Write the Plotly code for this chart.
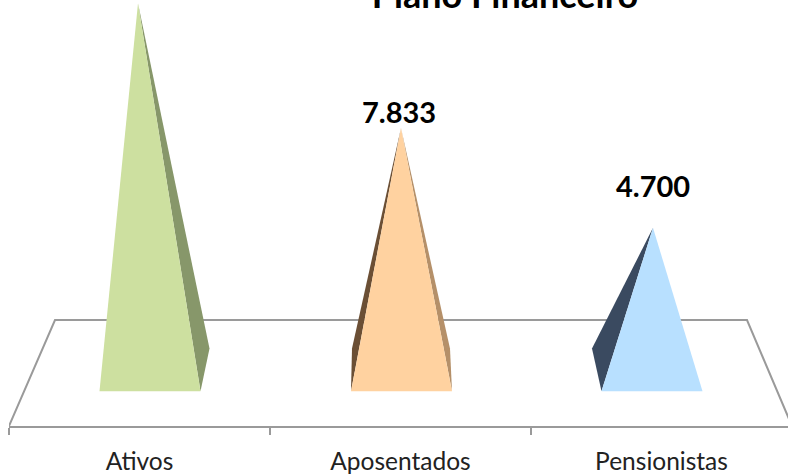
import plotly.graph_objects as go

# --- data ---
categories = ["Ativos", "Aposentados", "Pensionistas"]
values = [11750, 7833, 4700]
title_text = "Plano Financeiro"

# --- drawing constants (pseudo-3D geometry, in axis units) ---
PX_PER_CAT = 261.0
PX_PER_VAL = 0.0319
def dx(px): return px / PX_PER_CAT
def dv(px): return px / PX_PER_VAL

base_shift = [dx(10.5), dx(1), dx(-9.5)]
apex_shift = [dx(-1.5), dx(0.5), dx(-8.5)]
half_width = dx(50.5)
base_level = -dv(13.7)
depth_level = dv(29)
floor_back = dv(57.5)
floor_front = -dv(48.5)
floor_left = [-0.5, -0.5 + dx(46)]
floor_right = [2.5 - dx(45), 2.5]

front_col = ["#CDE0A0", "#FFD2A0", "#B8E0FF"]
right_side = [(dx(9), "#87976A"), (dx(-2), "#B59069"), None]
left_side = [None, (dx(1), "#6B4F35"), (dx(-9.5), "#3A4A60")]
label_lift = [0, -3, 23]

LINE = "#9A9A9A"

fig = go.Figure()

# floor
fig.add_trace(go.Scatter(
    x=[floor_left[0], floor_left[1], floor_right[0], floor_right[1]],
    y=[floor_front, floor_back, floor_back, floor_front],
    mode="lines", line=dict(color=LINE, width=2), hoverinfo="skip", showlegend=False))

for i, (cat, v) in enumerate(zip(categories, values)):
    xc = i + base_shift[i]
    xl, xr = xc - half_width, xc + half_width
    xa = i + apex_shift[i]
    if right_side[i]:
        off, col = right_side[i]
        fig.add_trace(go.Scatter(x=[xr, xr + off, xa, xr], y=[base_level, depth_level, v, base_level],
                                 mode="lines", fill="toself", fillcolor=col, line=dict(width=0),
                                 hoverinfo="skip", showlegend=False))
    if left_side[i]:
        off, col = left_side[i]
        fig.add_trace(go.Scatter(x=[xl, xl + off, xa, xl], y=[base_level, depth_level, v, base_level],
                                 mode="lines", fill="toself", fillcolor=col, line=dict(width=0),
                                 hoverinfo="skip", showlegend=False))
    fig.add_trace(go.Scatter(x=[xl, xr, xa, xl], y=[base_level, base_level, v, base_level],
                             mode="lines", fill="toself", fillcolor=front_col[i], line=dict(width=0),
                             name=cat, showlegend=False))
    if i > 0:
        fig.add_annotation(x=xa, y=v, text=f"<b>{v:,}</b>".replace(",", "."), showarrow=False,
                           yanchor="bottom", yshift=label_lift[i], xshift=-2 if i == 1 else 0,
                           font=dict(family="Lato, Carlito, sans-serif", size=29, color="#000000"))

fig.update_layout(
    width=788, height=474,
    margin=dict(l=9, r=0, t=0, b=47.5),
    paper_bgcolor="white", plot_bgcolor="white",
    showlegend=False,
    title=dict(text=f"<b>{title_text}</b>", x=505/788, xanchor="center",
               y=1-8/474, yanchor="bottom",
               font=dict(family="Lato, Carlito, sans-serif", size=36, color="#000000")),
    xaxis=dict(range=[-0.5, (788-139.5)/PX_PER_CAT], showgrid=False, zeroline=False,
               showline=True, linecolor=LINE, linewidth=2,
               tickmode="array", tickvals=[0, 1, 2], ticktext=categories, ticks="",
               ticklabelstandoff=13,
               tickfont=dict(family="Lato, Carlito, sans-serif", size=24.5, color="#222222"),
               minor=dict(tickmode="array", tickvals=[-0.5, 0.5, 1.5, 2.5], ticks="outside",
                          ticklen=7, tickwidth=2, tickcolor=LINE, showgrid=False)),
    yaxis=dict(range=[floor_front, dv(378)], visible=False),
)

fig.write_html("out.html", post_script="document.body.style.margin='0';",
               config={"displayModeBar": False})
